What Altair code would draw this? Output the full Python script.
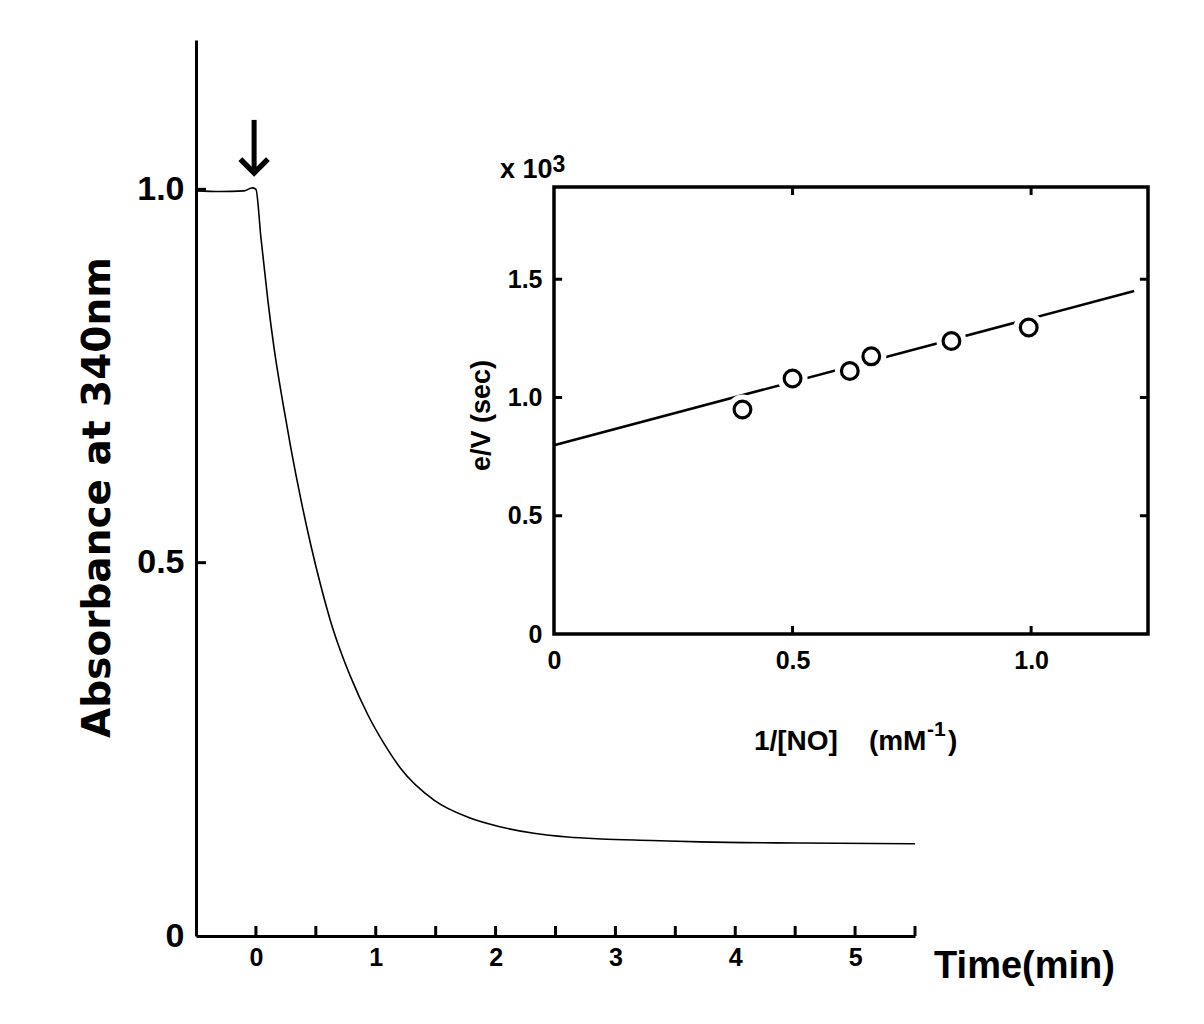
import altair as alt
import pandas as pd

# ---------------- data ----------------
# main trace: absorbance at 340 nm vs time (min)
time_min = [-0.5, -0.3, -0.1, -0.03, 0.0, 0.042, 0.10, 0.15, 0.225, 0.292, 0.376,
            0.459, 0.543, 0.626, 0.71, 0.793, 0.935, 1.068, 1.21, 1.486, 1.77,
            2.045, 2.32, 2.6, 2.88, 3.3, 3.71, 4.55, 5.5]
absorbance = [0.998, 0.997, 0.998, 1.002, 1.0, 0.935, 0.851, 0.789, 0.714, 0.653,
              0.584, 0.523, 0.468, 0.420, 0.380, 0.346, 0.296, 0.258, 0.224, 0.182,
              0.159, 0.146, 0.1375, 0.1325, 0.130, 0.128, 0.126, 0.1245, 0.1235]

main_x_ticks = [0, 0.5, 1, 1.5, 2, 2.5, 3, 3.5, 4, 4.5, 5, 5.5]
main_x_labels = [0, 1, 2, 3, 4, 5]
main_y_ticks = [0.5, 1.0]
main_y_labels = [0, 0.5, 1.0]

arrow_t = [-0.015]
arrow_top = [1.093]
arrow_tip = [1.022]

# inset: e/V (x10^3 sec) vs 1/[NO] (mM^-1)
inv_no = [0.395, 0.5, 0.62, 0.665, 0.833, 0.995]
ev = [0.949, 1.080, 1.112, 1.174, 1.239, 1.296]
fit_x = [0.0, 1.216]
fit_y = [0.798, 1.450]

inset_x_ticks = [0.5, 1.0]
inset_y_ticks = [0.5, 1.0, 1.5]
inset_x_labels = [0, 0.5, 1.0]
inset_y_labels = [0, 0.5, 1.0, 1.5]

FONT = "Liberation Sans"
NB = "\u00a0"

# ---------------- geometry ----------------
W, H = 719, 896
MX = [-0.5, 5.5]
MY = [0, 1.2]
IX = [0, 1.245]
IY = [0, 1.89]
IX_RANGE = [358, 952]
IY_RANGE = [594, 147]

mxs = alt.Scale(domain=MX, nice=False, zero=False)
mys = alt.Scale(domain=MY, nice=False, zero=False)
ixs = alt.Scale(domain=IX, range=IX_RANGE, nice=False, zero=False)
iys = alt.Scale(domain=IY, range=IY_RANGE, nice=False, zero=False)

lab_expr = "datum.value == 0 ? '0' : format(datum.value, '.1f')"
lab_expr_y = "datum.value == 0 ? '0" + NB + "' : format(datum.value, '.1f')"

# ---------------- main chart ----------------
curve_df = pd.DataFrame({"t": time_min, "A": absorbance})
curve = alt.Chart(curve_df).mark_line(
    color="black", strokeWidth=1.6, interpolate="monotone"
).encode(
    x=alt.X("t:Q", scale=mxs, axis=alt.Axis(
        values=main_x_labels, format="d", ticks=False, grid=False,
        domainColor="black", domainWidth=3, labelFlush=False,
        labelFont=FONT, labelFontSize=25, labelFontWeight="bold",
        labelColor="black", labelPadding=9,
        title="Time(min)", titleFont=FONT, titleFontSize=38,
        titleFontWeight="bold", titleColor="black",
        titleX=828, titleY=30, titleAlign="center", titleBaseline="middle")),
    y=alt.Y("A:Q", scale=mys, axis=alt.Axis(
        values=main_y_labels, labelExpr=lab_expr_y, ticks=False, grid=False,
        domainColor="black", domainWidth=3, labelFlush=False,
        labelFont=FONT, labelFontSize=34, labelFontWeight="bold",
        labelColor="black", labelPadding=12,
        title="Absorbance at 340nm", titleFont="DejaVu Sans", titleFontSize=39,
        titleFontWeight="bold", titleColor="black",
        titleX=-99, titleY=457, titleAngle=-90,
        titleAlign="center", titleBaseline="middle")),
)

xt_df = pd.DataFrame({"t": main_x_ticks})
xticks = alt.Chart(xt_df).mark_rule(color="black", strokeWidth=3).encode(
    x=alt.X("t:Q", scale=mxs),
    y=alt.datum(0, scale=mys),
    y2=alt.datum(0.0134),
)
yt_df = pd.DataFrame({"A": main_y_ticks})
yticks = alt.Chart(yt_df).mark_rule(color="black", strokeWidth=3).encode(
    y=alt.Y("A:Q", scale=mys),
    x=alt.datum(-0.5, scale=mxs),
    x2=alt.datum(-0.4165),
)

arrow_df = pd.DataFrame({"t": arrow_t, "top": arrow_top, "tip": arrow_tip})
arrow_shaft = alt.Chart(arrow_df).mark_rule(color="black", strokeWidth=5).encode(
    x=alt.X("t:Q", scale=mxs),
    y=alt.Y("top:Q", scale=mys),
    y2="tip:Q",
)
arrow_head = alt.Chart(arrow_df).mark_point(
    shape="M-1,-1L0,0L1,-1", filled=False, stroke="black", strokeWidth=5.5,
    size=760, opacity=1, strokeJoin="miter", strokeCap="butt"
).encode(
    x=alt.X("t:Q", scale=mxs),
    y=alt.Y("tip:Q", scale=mys),
)

main = alt.layer(curve, xticks, yticks, arrow_shaft, arrow_head)

# ---------------- inset ----------------
fit_df = pd.DataFrame({"x": fit_x, "y": fit_y})
pts_df = pd.DataFrame({"x": inv_no, "y": ev})

frame = alt.Chart(pd.DataFrame({"x": [IX[0]], "x2": [IX[1]], "y": [IY[0]], "y2": [IY[1]]})).mark_rect(
    fillOpacity=0, stroke="black", strokeWidth=3.5
).encode(
    x=alt.X("x:Q", scale=ixs, axis=alt.Axis(
        values=inset_x_labels, labelExpr=lab_expr, ticks=False, domain=False,
        grid=False, orient="bottom", offset=IY_RANGE[0] - H, labelFlush=False,
        labelFont=FONT, labelFontSize=25, labelFontWeight="bold",
        labelColor="black", labelPadding=14, title="")),
    x2="x2:Q",
    y=alt.Y("y:Q", scale=iys, axis=alt.Axis(
        values=inset_y_labels, labelExpr=lab_expr_y, ticks=False, domain=False,
        grid=False, orient="left", offset=-IX_RANGE[0], labelFlush=False,
        labelFont=FONT, labelFontSize=25, labelFontWeight="bold",
        labelColor="black", labelPadding=12,
        title="e/V (sec)", titleFont=FONT, titleFontSize=27,
        titleFontWeight="bold", titleColor="black",
        titleX=-73, titleY=375, titleAngle=-90,
        titleAlign="center", titleBaseline="middle")),
    y2="y2:Q",
)

ixt_df = pd.DataFrame({"x": inset_x_ticks})
ixt_bottom = alt.Chart(ixt_df).mark_rule(color="black", strokeWidth=3).encode(
    x=alt.X("x:Q", scale=ixs), y=alt.datum(IY[0], scale=iys), y2=alt.datum(0.034))
ixt_top = alt.Chart(ixt_df).mark_rule(color="black", strokeWidth=3).encode(
    x=alt.X("x:Q", scale=ixs), y=alt.datum(IY[1], scale=iys), y2=alt.datum(1.856))
iyt_df = pd.DataFrame({"y": inset_y_ticks})
iyt_left = alt.Chart(iyt_df).mark_rule(color="black", strokeWidth=3).encode(
    y=alt.Y("y:Q", scale=iys), x=alt.datum(IX[0], scale=ixs), x2=alt.datum(0.017))
iyt_right = alt.Chart(iyt_df).mark_rule(color="black", strokeWidth=3).encode(
    y=alt.Y("y:Q", scale=iys), x=alt.datum(IX[1], scale=ixs), x2=alt.datum(1.228))

fit_line = alt.Chart(fit_df).mark_line(color="black", strokeWidth=2.6).encode(
    x=alt.X("x:Q", scale=ixs), y=alt.Y("y:Q", scale=iys))
halo = alt.Chart(pts_df).mark_point(
    shape="circle", filled=True, color="white", opacity=1, size=900, strokeWidth=0
).encode(x=alt.X("x:Q", scale=ixs), y=alt.Y("y:Q", scale=iys))
circles = alt.Chart(pts_df).mark_point(
    shape="circle", filled=False, color="black", opacity=1, size=280, strokeWidth=3.2
).encode(x=alt.X("x:Q", scale=ixs), y=alt.Y("y:Q", scale=iys))

# text annotations: multiplier above the inset and inset x-axis title
ann_text = ["x 10", "3", "1/[NO]", "(mM", "-1", ")"]
ann_x = [-0.113, -0.003, 0.419, 0.660, 0.782, 0.826]
ann_y = [1.928, 1.955, -0.490, -0.490, -0.432, -0.490]
ann_size = [27, 23, 28, 28, 21, 28]
ann_df = pd.DataFrame({"x": ann_x, "y": ann_y, "txt": ann_text, "fs": ann_size})
ann = alt.Chart(ann_df).mark_text(
    font=FONT, fontWeight="bold", color="black",
    align="left", baseline="alphabetic"
).encode(
    x=alt.X("x:Q", scale=ixs), y=alt.Y("y:Q", scale=iys),
    text="txt:N",
    size=alt.Size("fs:Q", scale=None, legend=None),
)

inset = alt.layer(frame, ixt_bottom, ixt_top, iyt_left, iyt_right,
                  fit_line, halo, circles, ann)

chart = alt.layer(main, inset).resolve_scale(
    x="independent", y="independent"
).properties(
    width=W, height=H,
    autosize=alt.AutoSizeParams(type="none"),
    padding={"left": 188, "top": 32, "right": 281, "bottom": 80},
    background="white",
).configure_view(stroke=None)

chart.save("out.html", embed_options={"renderer": "svg", "actions": False})
